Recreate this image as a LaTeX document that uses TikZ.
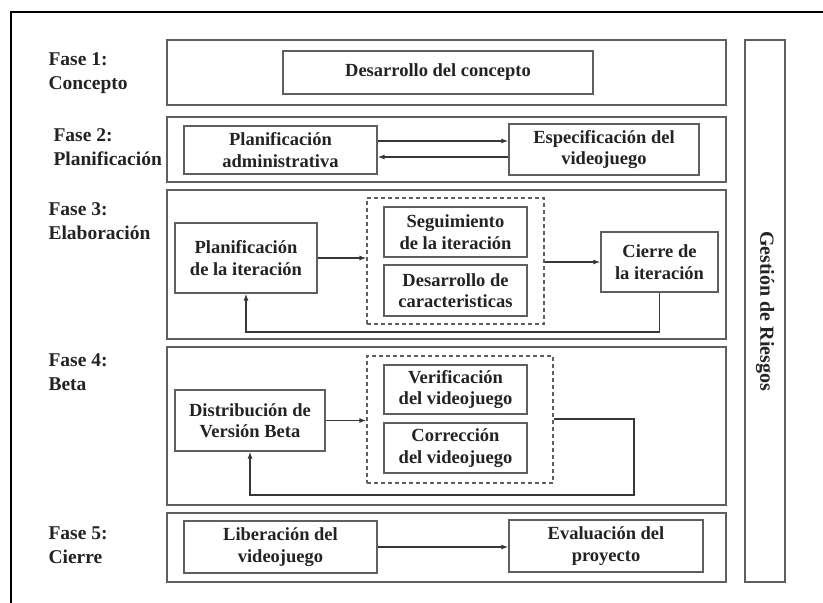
\documentclass[tikz,border=0pt]{standalone}
\usepackage{fontspec}
\setmainfont{Liberation Serif}
\usetikzlibrary{arrows.meta}
\definecolor{boxgray}{RGB}{95,95,95}
\definecolor{linegray}{RGB}{55,55,55}
\definecolor{textgray}{RGB}{35,35,35}

\begin{document}
\begin{tikzpicture}[x=1pt,y=-1pt,
    fase/.style={draw=boxgray, line width=1.3pt, minimum width=559pt, inner sep=0pt},
    caja/.style={draw=boxgray, line width=1.3pt, inner sep=0pt, align=center, text=textgray, font=\bfseries\fontsize{18.5}{21.5}\selectfont},
    grupo/.style={draw=boxgray, line width=1.2pt, dash pattern=on 4pt off 3pt, inner sep=0pt},
    etiqueta/.style={anchor=base west, align=left, text=textgray, font=\bfseries\fontsize{19.5}{23.5}\selectfont},
    flecha/.style={draw=linegray, line width=1.3pt, -{Latex[length=7pt,width=5pt]}}]
    \useasboundingbox (0,0) rectangle (823,603);
    \draw[line width=2.5pt] (11,603) -- (11,12) -- (823,12);

    \node[fase, minimum height=65pt] (f1) at (446.5,72.5) {};
    \node[fase, minimum height=65pt] (f2) at (446.5,149.5) {};
    \node[fase, minimum height=149pt] (f3) at (446.5,264.5) {};
    \node[fase, minimum height=158pt] (f4) at (446.5,426) {};
    \node[fase, minimum height=69pt] (f5) at (446.5,547.5) {};
    \node[fase, minimum width=40pt, minimum height=542pt] (gr) at (765,311) {};
    \node[rotate=-90, text=textgray, font=\bfseries\fontsize{20}{24}\selectfont] (grt) at (gr.center) {Gestión de Riesgos};

    \node[etiqueta] (l1) at (45,89) {Fase 1:\\Concepto};
    \node[etiqueta] (l2) at (50,165) {Fase 2:\\Planificación};
    \node[etiqueta] (l3) at (45,239) {Fase 3:\\Elaboración};
    \node[etiqueta] (l4) at (45,390) {Fase 4:\\Beta};
    \node[etiqueta] (l5) at (45,563) {Fase 5:\\Cierre};

    \node[caja, minimum width=310pt, minimum height=43pt] (dc) at (438,72.5) {Desarrollo del concepto};

    \node[caja, minimum width=193pt, minimum height=48pt] (pa) at (280.5,150) {Planificación\\administrativa};
    \node[caja, minimum width=190pt, minimum height=51pt] (ev) at (604,149.5) {Especificación del\\videojuego};
    \draw[flecha] (pa.east |- 0,141) -- (ev.west |- 0,141);
    \draw[flecha] (ev.west |- 0,157) -- (pa.east |- 0,157);

    \node[caja, minimum width=142pt, minimum height=70pt] (pi) at (246,258) {Planificación\\de la iteración};
    \node[grupo, minimum width=177pt, minimum height=126pt] (g3) at (455.5,261) {};
    \node[caja, minimum width=143pt, minimum height=50pt] (si) at (455.5,232) {Seguimiento\\de la iteración};
    \node[caja, minimum width=143pt, minimum height=51pt] (dca) at (455.5,290.5) {Desarrollo de\\caracteristicas};
    \node[caja, minimum width=117pt, minimum height=60pt] (ci) at (659.5,262) {Cierre de\\la iteración};
    \draw[flecha] (pi.east) -- (g3.west |- pi.east);
    \draw[flecha] (g3.east |- ci.west) -- (ci.west);
    \draw[flecha] (ci.south) -- (ci.south |- 0,332) -| (pi.south);

    \node[caja, minimum width=150pt, minimum height=61pt] (dv) at (250,420.5) {Distribución de\\Versión Beta};
    \node[grupo, minimum width=186pt, minimum height=127pt] (g4) at (460,419.5) {};
    \node[caja, minimum width=143pt, minimum height=49pt] (vv) at (455.5,389.5) {Verificación\\del videojuego};
    \node[caja, minimum width=143pt, minimum height=50pt] (cv) at (455.5,448) {Corrección\\del videojuego};
    \draw[flecha] (dv.east) -- (g4.west |- dv.east);
    \draw[flecha] (g4.east |- 0,419) -- (634,419) -- (634,495) -| (dv.south);

    \node[caja, minimum width=193pt, minimum height=52pt] (lv) at (280.5,547) {Liberación del\\videojuego};
    \node[caja, minimum width=194pt, minimum height=52pt] (ep) at (606,546) {Evaluación del\\proyecto};
    \draw[flecha] (lv.east |- 0,547) -- (ep.west |- 0,547);
\end{tikzpicture}
\end{document}
